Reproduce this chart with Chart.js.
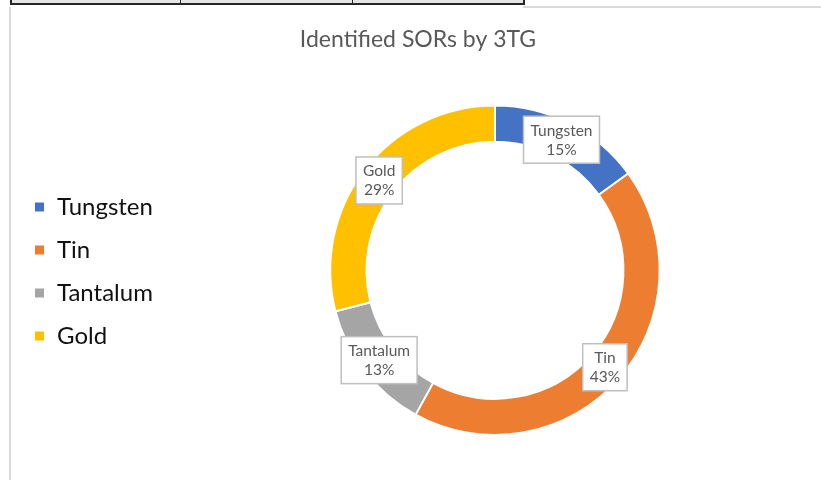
<!DOCTYPE html>
<html>
<head>
<meta charset="utf-8">
<script src="https://cdn.jsdelivr.net/npm/chart.js@4.4.1/dist/chart.umd.min.js"></script>
<style>
	body { margin: 0; background: #fff; }
	#wrap { position: relative; width: 821px; height: 480px; overflow: hidden; }
	#cells { position: absolute; left: 10px; top: -2px; width: 511px; height: 5px; background: #e4e4e4; border: 2px solid #262626; border-top: none; }
	.cellLine { position: absolute; top: -2px; width: 1px; height: 7px; background: #262626; }
	#topLine { position: absolute; left: 523px; top: 6px; width: 298px; height: 2px; background: #dadada; }
	#leftLine { position: absolute; left: 9px; top: 7px; width: 2px; height: 473px; background: #dadada; }
	#chart { position: absolute; left: 11px; top: 8px; }
</style>
</head>
<body>
<div id="wrap">
	<div id="cells"></div>
	<div class="cellLine" style="left:180px"></div>
	<div class="cellLine" style="left:352px"></div>
	<div id="topLine"></div>
	<div id="leftLine"></div>
	<canvas id="chart" width="810" height="472"></canvas>
</div>
<script>
const metals = ["Tungsten", "Tin", "Tantalum", "Gold"];
const sorShares = [15, 43, 13, 29];
const metalColors = ["#4472C4", "#ED7D31", "#A5A5A5", "#FFC000"];

// labels in white boxes on each slice, like Excel's data callouts
const sliceLabels = {
	id: "sliceLabels",
	afterInit(chart) {
		// widen the legend box a little so the ring sits where Excel put it
		const fit = chart.legend.fit;
		chart.legend.fit = function () {
			fit.call(this);
			this.width += 6;
		};
	},
	afterDatasetsDraw(chart) {
		const { ctx } = chart;
		const meta = chart.getDatasetMeta(0);
		const data = chart.data.datasets[0].data;
		const total = data.reduce((a, b) => a + b, 0);
		ctx.save();
		ctx.font = "15.5px Lato";
		ctx.textAlign = "center";
		ctx.textBaseline = "middle";
		meta.data.forEach((arc, i) => {
			const p = arc.getCenterPoint();
			const lines = [chart.data.labels[i], Math.round((data[i] / total) * 100) + "%"];
			const w = Math.max(...lines.map((t) => ctx.measureText(t).width)) + 14;
			const h = 47;
			ctx.fillStyle = "#fff";
			ctx.strokeStyle = "#bfbfbf";
			ctx.lineWidth = 1.5;
			ctx.fillRect(p.x - w / 2, p.y - h / 2, w, h);
			ctx.strokeRect(p.x - w / 2, p.y - h / 2, w, h);
			ctx.fillStyle = "#595959";
			ctx.fillText(lines[0], p.x, p.y - 9);
			ctx.fillText(lines[1], p.x, p.y + 10);
		});
		ctx.restore();
	},
};

new Chart(document.getElementById("chart"), {
	type: "doughnut",
	data: {
		labels: metals,
		datasets: [
			{
				data: sorShares,
				backgroundColor: metalColors,
				borderColor: "#fff",
				borderWidth: 2,
			},
		],
	},
	options: {
		responsive: false,
		animation: false,
		cutout: "78%",
		layout: { padding: { left: 4, right: 0, top: 0, bottom: 44 } },
		plugins: {
			title: {
				display: true,
				text: "Identified SORs by 3TG",
				color: "#595959",
				font: { family: "Lato", size: 23, weight: "normal" },
				padding: { top: 18, bottom: 51 },
			},
			legend: {
				position: "left",
				title: {
					display: true,
					text: "",
					font: { size: 1 },
					padding: { top: 0, bottom: 98 },
				},
				labels: {
					boxWidth: 11,
					boxHeight: 11,
					padding: 19,
					color: "#111",
					font: { family: "Lato", size: 24 },
				},
			},
			tooltip: { enabled: false },
		},
	},
	plugins: [sliceLabels],
});
</script>
</body>
</html>
